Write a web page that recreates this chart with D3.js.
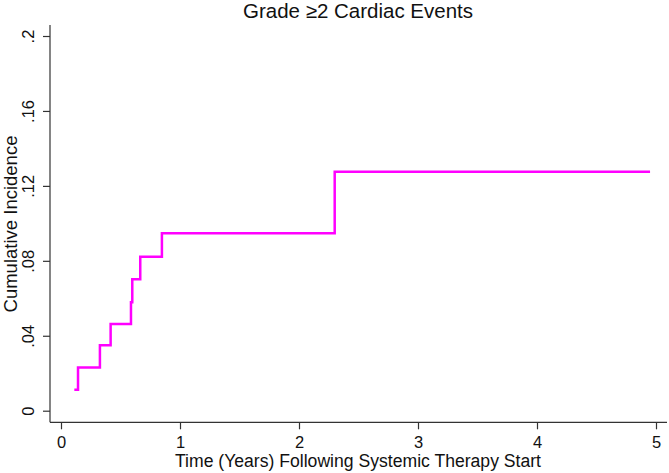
<!DOCTYPE html>
<html lang="en">
<head>
    <meta charset="UTF-8">
    <title>Grade ≥2 Cardiac Events</title>
    <script src="https://d3js.org/d3.v7.min.js"></script>
    <style>
        body { margin: 0; background: #fff; }
        svg text { font-family: "Liberation Sans", Arial, Helvetica, sans-serif; fill: #111; }
        .axis path, .axis line { stroke: #333; stroke-width: 1.2px; }
    </style>
</head>
<body>
    <div id="chart"></div>
    <script>
        // event times (years) and cumulative incidence after each step
        const times = [0.112, 0.143, 0.327, 0.417, 0.588, 0.599, 0.666, 0.848, 2.30, 4.95];
        const incidence = [0.0112, 0.0230, 0.0349, 0.0463, 0.0579, 0.0702, 0.0822, 0.0947, 0.1275, 0.1275];
        const xTicks = [0, 1, 2, 3, 4, 5];
        const yTicks = [0, 0.04, 0.08, 0.12, 0.16, 0.2];
        const yTickLabels = ["0", ".04", ".08", ".12", ".16", ".2"];

        const width = 669, height = 473;
        const svg = d3.select("#chart").append("svg")
            .attr("width", width)
            .attr("height", height);

        // x: 0 -> 61px, 5 -> 656px ; y: 0 -> 410.7px, .2 -> 36px
        const x = d3.scaleLinear().domain([0, 5]).range([61, 656]);
        const y = d3.scaleLinear().domain([0, 0.2]).range([410.7, 36]);
        const axisLeftX = 50, axisBottomY = 422.3;

        // axis lines (they run past the data range, Stata style)
        svg.append("line")
            .attr("x1", axisLeftX).attr("x2", axisLeftX)
            .attr("y1", 25).attr("y2", axisBottomY)
            .attr("stroke", "#333").attr("stroke-width", 1.2);
        svg.append("line")
            .attr("x1", axisLeftX).attr("x2", 667)
            .attr("y1", axisBottomY).attr("y2", axisBottomY)
            .attr("stroke", "#333").attr("stroke-width", 1.2);

        const xAxis = svg.append("g")
            .attr("class", "axis")
            .attr("transform", `translate(0,${axisBottomY})`)
            .call(d3.axisBottom(x).tickValues(xTicks).tickSize(7).tickPadding(6).tickFormat(d3.format("d")));
        xAxis.select(".domain").remove();
        xAxis.selectAll("text")
            .attr("font-size", 16.5)
            .attr("fill", "#111")
            .attr("dy", 0)
            .attr("y", 26);

        const yAxis = svg.append("g")
            .attr("class", "axis")
            .attr("transform", `translate(${axisLeftX},0)`)
            .call(d3.axisLeft(y).tickValues(yTicks).tickSize(7).tickFormat((d, i) => yTickLabels[i]));
        yAxis.select(".domain").remove();
        yAxis.selectAll("text")
            .attr("font-size", 16.5)
            .attr("fill", "#111")
            .attr("text-anchor", "middle")
            .attr("x", 0).attr("y", 0).attr("dy", 0)
            .attr("transform", "translate(-16,0) rotate(-90)");

        // step curve
        const line = d3.line()
            .x((d, i) => x(times[i]))
            .y((d, i) => y(incidence[i]))
            .curve(d3.curveStepAfter);
        svg.append("path")
            .datum(incidence)
            .attr("d", line)
            .attr("fill", "none")
            .attr("stroke", "#ff00ff")
            .attr("stroke-width", 2.5);

        // titles
        svg.append("text")
            .attr("x", 358).attr("y", 17.5)
            .attr("text-anchor", "middle")
            .attr("font-size", 20.5)
            .text("Grade ≥2 Cardiac Events");

        svg.append("text")
            .attr("x", 358).attr("y", 467)
            .attr("text-anchor", "middle")
            .attr("font-size", 17.6)
            .text("Time (Years) Following Systemic Therapy Start");

        svg.append("text")
            .attr("transform", "translate(17,224) rotate(-90)")
            .attr("text-anchor", "middle")
            .attr("font-size", 18.5)
            .text("Cumulative Incidence");
    </script>
</body>
</html>
